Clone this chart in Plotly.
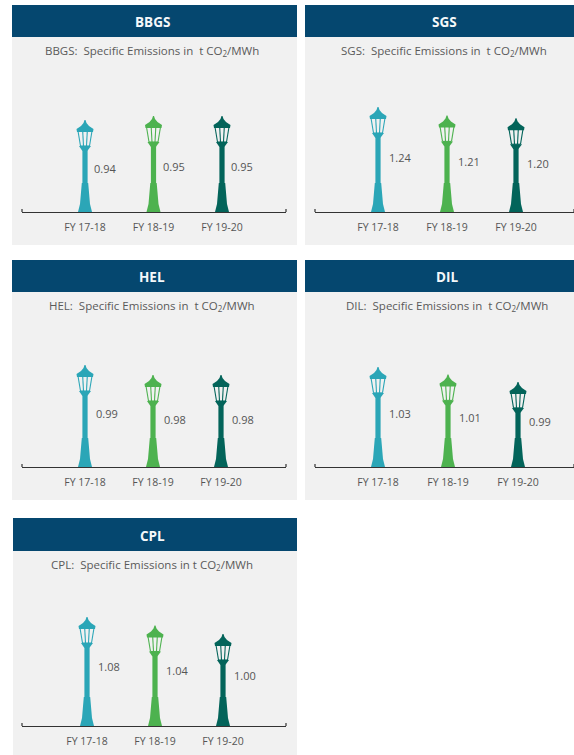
import plotly.graph_objects as go

W, H = 574, 755
fiscal_years = ["FY 17-18", "FY 18-19", "FY 19-20"]
plant_names = ["BBGS", "SGS", "HEL", "DIL", "CPL"]
bbgs_values = [0.94, 0.95, 0.95]
sgs_values = [1.24, 1.21, 1.20]
hel_values = [0.99, 0.98, 0.98]
dil_values = [1.03, 1.01, 0.99]
cpl_values = [1.08, 1.04, 1.00]
plant_values = [bbgs_values, sgs_values, hel_values, dil_values, cpl_values]
lamp_colors = ["#2ba6b7", "#4db24f", "#03645a"]

# pixel layout of each panel: left, right, top, bottom, header bottom, baseline,
# axis left, axis right, first lamp centre, lamp step, axis floor value, px per unit,
# text centre, value label height fraction and shift, title
panels = [
    dict(l=12, r=297, t=5, b=245, hb=37, base=212, al=22, ar=286, c0=85, step=68.5, v0=0.71, ppu=400,
         tc=152, lf=0.47, ls=20, title="BBGS:  Specific Emissions in  t CO<sub>2</sub>/MWh"),
    dict(l=305, r=574, t=5, b=245, hb=37, base=212, al=315, ar=574, c0=378, step=69, v0=0.865, ppu=280,
         tc=444, lf=0.52, ls=22, title="SGS:  Specific Emissions in  t CO<sub>2</sub>/MWh"),
    dict(l=12, r=297, t=260, b=500, hb=292, base=467, al=22, ar=286, c0=85, step=68, v0=0.888, ppu=1000,
         tc=152, lf=0.52, ls=22, title="HEL:  Specific Emissions in  t CO<sub>2</sub>/MWh"),
    dict(l=305, r=574, t=260, b=500, hb=292, base=467, al=315, ar=574, c0=378, step=70, v0=0.763, ppu=375,
         tc=447, lf=0.53, ls=22, title="DIL:  Specific Emissions in  t CO<sub>2</sub>/MWh"),
    dict(l=13, r=297, t=518, b=755, hb=551, base=726, al=22, ar=286, c0=87, step=68, v0=0.566, ppu=212,
         tc=152, lf=0.55, ls=22, title="CPL:  Specific Emissions in t CO<sub>2</sub>/MWh"),
]

# lamp silhouette: (half width px, px below lamp top) for the head; (half width, px above base) for the foot
head = [(0.5, 0), (1.5, 3), (4, 6), (8.5, 9), (8, 12)]
cup = [(6, 26), (3, 30)]
foot = [(3.2, 29), (5, 8), (7, 0)]
pole_hw = 2.6

fig = go.Figure()
shapes, annots = [], []
px = lambda x: x / W
py = lambda y: 1 - y / H

for k, (p, name, vals) in enumerate(zip(panels, plant_names, plant_values)):
    sfx = "" if k == 0 else str(k + 1)
    shapes.append(dict(type="rect", xref="paper", yref="paper", x0=px(p["l"]), x1=px(p["r"]),
                       y0=py(p["b"]), y1=py(p["t"]), fillcolor="#f1f1f1", line_width=0, layer="below"))
    shapes.append(dict(type="rect", xref="paper", yref="paper", x0=px(p["l"]), x1=px(p["r"]),
                       y0=py(p["hb"]), y1=py(p["t"]), fillcolor="#05476f", line_width=0, layer="below"))
    annots.append(dict(text=f"<b>{name}</b>", xref="paper", yref="paper", x=px(p["tc"]),
                       y=py((p["t"] + p["hb"]) / 2 + 1), xanchor="center", yanchor="middle", showarrow=False,
                       font=dict(family="Open Sans", size=13.5, color="#f4f8fa")))
    annots.append(dict(text=p["title"], xref="paper", yref="paper", x=px(p["tc"]), y=py(p["hb"] + 14),
                       xanchor="center", yanchor="middle", showarrow=False,
                       font=dict(family="Open Sans", size=11.5, color="#5a5a5a")))

    top_px = 130
    xs0 = (p["al"] - p["c0"]) / p["step"]
    xs1 = (p["ar"] - p["c0"]) / p["step"]
    fig.layout[f"xaxis{sfx}"] = dict(
        domain=[px(p["al"]), px(p["ar"])], range=[xs0, xs1], anchor=f"y{sfx}",
        tickvals=list(range(len(fiscal_years))), ticktext=fiscal_years, showgrid=False, zeroline=False,
        showline=True, linecolor="#333333", linewidth=1.4, ticks="", ticklabelstandoff=5,
        tickfont=dict(family="Open Sans", size=10.5, color="#555555"), fixedrange=True)
    fig.layout[f"yaxis{sfx}"] = dict(
        domain=[py(p["base"]), py(p["base"] - top_px)], range=[p["v0"], p["v0"] + top_px / p["ppu"]],
        anchor=f"x{sfx}", visible=False, fixedrange=True)

    for e in (p["al"], p["ar"]):
        shapes.append(dict(type="line", xref="paper", yref="paper", x0=px(e), x1=px(e),
                           y0=py(p["base"]), y1=py(p["base"] - 3), line=dict(color="#333333", width=1.2)))

    for i, v in enumerate(vals):
        color = lamp_colors[i]
        X = lambda hw: i + hw / p["step"]
        Yt = lambda d: v - d / p["ppu"]
        Yb = lambda d: p["v0"] + d / p["ppu"]
        xs, ys = [], []
        # head
        pts = [(hw, Yt(d)) for hw, d in head]
        xs += [X(-hw) for hw, _ in pts] + [X(hw) for hw, _ in reversed(pts)] + [None]
        ys += [y for _, y in pts] + [y for _, y in reversed(pts)] + [None]
        # pole with cup and foot
        right = [(hw, Yt(d)) for hw, d in cup] + [(pole_hw, Yt(31))] + [(pole_hw, Yb(29))] + \
                [(hw, Yb(d)) for hw, d in foot]
        xs += [X(-hw) for hw, _ in right] + [X(hw) for hw, _ in reversed(right)]
        ys += [y for _, y in right] + [y for _, y in reversed(right)]
        fig.add_trace(go.Scatter(x=xs, y=ys, mode="lines", fill="toself", fillcolor=color, line=dict(width=0),
                                 xaxis=f"x{sfx}", yaxis=f"y{sfx}", showlegend=False, hoverinfo="skip"))
        # lantern glass and bars
        lx, ly = [], []
        for a, b in [(-7, -4.5), (-2.3, -1.5), (2.3, 1.5), (7, 4.5)]:
            lx += [X(a), X(b), None]
            ly += [Yt(11), Yt(26), None]
        lx += [X(-4.5), X(4.5)]
        ly += [Yt(26), Yt(26)]
        fig.add_trace(go.Scatter(x=lx, y=ly, mode="lines", line=dict(color=color, width=1.1),
                                 xaxis=f"x{sfx}", yaxis=f"y{sfx}", showlegend=False, hoverinfo="skip"))
        # value label beside the post
        ymid = p["v0"] + (v - p["v0"]) * p["lf"]
        annots.append(dict(text=f"{v:.2f}", xref=f"x{sfx}", yref=f"y{sfx}", x=i, y=ymid, xshift=p["ls"],
                           xanchor="center", yanchor="middle", showarrow=False,
                           font=dict(family="Open Sans", size=11, color="#555555")))

fig.update_layout(width=W, height=H, autosize=False, margin=dict(l=0, r=0, t=0, b=0),
                  paper_bgcolor="white", plot_bgcolor="rgba(0,0,0,0)", shapes=shapes, annotations=annots)
fig.write_html("out.html", config=dict(displayModeBar=False),
               post_script="document.body.style.margin='0';document.body.style.overflow='hidden';")
